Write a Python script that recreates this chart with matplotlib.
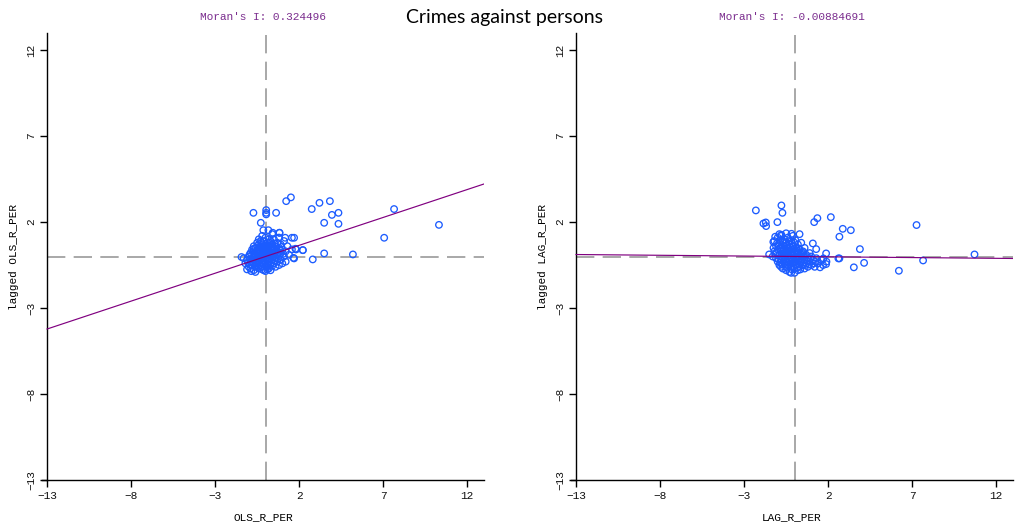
import numpy as np
import matplotlib.pyplot as plt

# residuals vs spatially lagged residuals
ols_x = [1.51, 1.23, -0.72, 0.04, 0.04, 0.04, 0.63, -0.28, 2.75, 3.21, 3.83, 3.95, 4.34,
         3.49, 4.34, 7.65, 10.32, 7.06, 5.20, 3.49, 2.81, 2.22, 1.70, 1.78, 1.57, 1.17,
         0.83, -1.43, 1.70, 1.57, 1.82, 2.22, 1.66, 0.83, 0.43, -0.13, 0.17,
         -1.2, -1.1, -1.0, -1.0, -0.9, -0.9, -0.9, -0.8, -0.8, -0.8, -0.7, -0.7, -0.7, -0.7,
         -0.6, -0.6, -0.6, -0.6, -0.5, -0.5, -0.5, -0.5, -0.4, -0.4, -0.4, -0.4, -0.4,
         -0.3, -0.3, -0.3, -0.3, -0.3, -0.2, -0.2, -0.2, -0.2, -0.2, -0.1, -0.1, -0.1,
         -0.1, -0.1, 0.0, 0.0, 0.0, 0.0, 0.0, 0.1, 0.1, 0.1, 0.1, 0.1, 0.2, 0.2, 0.2,
         0.2, 0.2, 0.3, 0.3, 0.3, 0.3, 0.4, 0.4, 0.4, 0.4, 0.5, 0.5, 0.5, 0.5, 0.6, 0.6,
         0.6, 0.6, 0.7, 0.7, 0.7, 0.8, 0.8, 0.8, 0.9, 0.9, 0.9, 1.0, 1.0, 1.1, 1.1, 1.2,
         1.2, 1.3, 1.4, -1.3, -0.95, -0.65, -0.45, -0.25, -0.05, 0.15, 0.35, 0.55, 0.25,
         -0.15, -0.55, 0.05, 0.45, 0.65, -0.35, 0.85, -0.75, 0.15, -0.05, -0.85, -0.6,
         0.0, 0.3, -1.1]
ols_lag = [3.44, 3.22, 2.54, 2.70, 2.54, 2.45, 2.54, 1.96, 2.76, 3.12, 3.22, 2.42, 2.54,
           1.96, 1.90, 2.76, 1.84, 1.09, 0.12, 0.18, -0.17, 0.37, -0.11, 0.45, 1.09, 1.09,
           1.38, -0.03, 1.09, 0.41, 0.41, 0.37, -0.08, 1.38, 1.38, 1.53, 1.53,
           -0.4, -0.2, -0.6, 0.0, -0.3, 0.2, -0.7, -0.5, 0.1, 0.4, -0.2, -0.8, 0.3, 0.6,
           -0.4, 0.0, 0.5, -0.6, 0.2, -0.1, 0.8, -0.5, 0.4, -0.3, 0.0, 1.0, -0.7,
           0.6, 0.1, -0.2, -0.5, 0.9, 0.3, -0.1, 0.7, -0.6, 1.2, 0.5, 0.0, -0.3,
           0.9, -0.8, 0.2, -0.4, 0.6, 1.1, -0.1, 0.4, -0.2, 0.8, -0.6, 0.1, 0.6, -0.3, 0.3,
           1.0, -0.7, 0.0, 0.5, -0.5, 0.9, 0.2, -0.2, 0.7, 1.3, 0.4, -0.4, 0.0, 1.0, 0.6, -0.1,
           0.3, -0.6, 0.8, 0.1, -0.3, 0.5, -0.5, 1.1, 0.2, -0.2, 0.7, 0.4, -0.4, 0.0, 0.9, 0.3,
           -0.3, 0.6, 0.1, -0.1, -0.45, 0.15, -0.25, 0.45, 0.25, 0.55, 0.25, 0.75, -0.15,
           -0.45, -0.35, -0.55, 0.45, 0.35, 0.35, 0.05, -0.05, 0.15, 0.65, -0.85, -0.9,
           -0.85, -0.8, -0.75]
# extra points in the dense core of the left cloud
ols_core_x = [-0.85, -0.75, -0.7, -0.65, -0.55, -0.5, -0.45, -0.45, -0.35, -0.35, -0.25,
              -0.25, -0.15, -0.15, -0.05, -0.05, 0.05, 0.05, 0.15, 0.15, 0.25, 0.25, 0.35,
              0.35, 0.45, 0.45, 0.55, 0.55, 0.65, 0.75, 0.75, 0.85, 0.95, 1.05, -1.05,
              -0.95, -0.6, -0.2, 0.1, 0.4]
ols_core_lag = [-0.15, -0.35, 0.45, -0.55, 0.05, 0.35, -0.6, 0.65, -0.05, 0.15, -0.35,
                0.8, 0.05, 0.35, -0.2, 0.45, 0.05, 0.75, -0.45, 0.35, 0.1, 0.8, -0.35,
                0.55, 0.1, -0.05, 0.25, -0.25, 0.55, 0.25, -0.1, 0.4, 0.55, 0.15, -0.35,
                0.1, -0.15, -0.75, -0.75, -0.55]

lag_x = [-2.30, -0.78, -0.72, -1.85, -1.71, -1.69, -1.02, 1.17, 1.36, 2.16, 2.87, 3.35, 2.67,
         7.26, 3.89, 2.67, 4.14, 3.53, 6.21, 7.65, 10.71, 1.88, 1.72, 1.88, 1.52, 1.09, 1.29,
         -1.51, -0.18, -0.78, -1.15, -1.26, 2.61,
         -1.2, -1.2, -1.1, -1.1, -1.0, -1.0, -1.0, -0.9, -0.9, -0.9, -0.8, -0.8, -0.8, -0.8,
         -0.7, -0.7, -0.7, -0.7, -0.6, -0.6, -0.6, -0.6, -0.5, -0.5, -0.5, -0.5, -0.4, -0.4,
         -0.4, -0.4, -0.3, -0.3, -0.3, -0.3, -0.2, -0.2, -0.2, -0.2, -0.1, -0.1, -0.1, -0.1,
         0.0, 0.0, 0.0, 0.0, 0.1, 0.1, 0.1, 0.2, 0.2, 0.2, 0.2, 0.3, 0.3, 0.3, 0.4, 0.4, 0.4,
         0.5, 0.5, 0.5, 0.6, 0.6, 0.6, 0.7, 0.7, 0.8, 0.8, 0.9, 0.9, 1.0, 1.0, 1.1, 1.2, 1.3,
         1.4, 1.6, 1.7, 1.9, -1.15, -0.95, -0.85, -0.65, -0.55, -0.45, -0.35, -0.25, -0.15,
         -0.05, 0.05, 0.15, 0.25, 0.35, 0.45, -0.75, -0.65, -0.45, -0.25, -0.05, 0.15, -0.2,
         0.0, -0.9, -0.5, 0.3, -1.3, -1.25]
lag_lag = [2.68, 2.97, 2.54, 1.92, 1.98, 1.77, 2.00, 2.00, 2.23, 2.29, 1.61, 1.53, 1.15,
           1.83, 0.43, -0.11, -0.37, -0.63, -0.83, -0.23, 0.12, 0.18, -0.11, -0.44, -0.63, 0.76,
           0.43, 0.12, 1.32, 1.26, 1.15, 0.85, -0.11,
           0.9, 0.3, 0.6, -0.1, 1.1, 0.4, -0.3, 0.8, 0.1, -0.5, 1.2, 0.5, -0.2, -0.6,
           0.9, 0.3, -0.1, -0.7, 1.0, 0.6, 0.0, -0.4, 0.8, 0.2, -0.3, -0.8, 1.1, 0.5,
           0.0, -0.5, 0.7, 0.3, -0.2, -0.9, 0.9, 0.4, -0.1, -0.6, 1.2, 0.6, 0.1, -0.4,
           0.8, 0.2, -0.3, -0.7, 0.5, 0.0, -0.5, 0.7, 0.2, -0.2, -0.8, 0.4, -0.1, -0.6, 0.1, -0.3,
           0.8, 0.3, -0.5, 0.0, -0.2, -0.7, 0.5, 0.1, -0.4, -0.1, -0.6, 0.2, -0.3, -0.5, 0.0, -0.2,
           -0.6, -0.1, -0.4, -0.2, -0.5, -0.3, 0.15, 0.65, -0.35, 0.35, -0.55, 0.65, -0.35, 0.15,
           -0.25, 0.45, -0.15, 0.25, -0.45, 0.15, -0.15, 0.15, -0.25, 0.35, -0.45, -0.55, -0.65,
           -0.95, -0.95, 1.3, 1.35, 1.3, 0.0, 0.5]
lag_core_x = [-1.05, -0.95, -0.85, -0.75, -0.75, -0.65, -0.55, -0.55, -0.45, -0.45, -0.35,
              -0.35, -0.25, -0.25, -0.15, -0.15, -0.05, -0.05, 0.05, 0.05, 0.15, 0.25, 0.25,
              0.35, 0.45, 0.55, 0.65, 0.75, 0.85, 0.95, 1.15, -0.85, -0.65, -0.35, 0.05,
              -1.05, 0.35, 0.65, 1.25, -0.15]
lag_core_lag = [0.25, -0.15, 0.45, -0.45, 0.65, 0.05, 0.45, -0.15, 0.15, -0.65, 0.45,
                0.05, 0.55, -0.05, 0.25, -0.75, 0.05, -0.35, 0.35, -0.45, -0.05, 0.45, 0.05,
                -0.35, 0.25, -0.35, 0.05, -0.25, -0.45, -0.1, -0.4, 0.95, 0.8, 0.9, 0.95,
                0.75, -0.75, -0.5, -0.3, 0.75]

panels = [
    ("OLS_R_PER", "lagged OLS_R_PER", "Moran's I: 0.324496", 0.324496,
     ols_x + ols_core_x, ols_lag + ols_core_lag),
    ("LAG_R_PER", "lagged LAG_R_PER", "Moran's I: -0.00884691", -0.00884691,
     lag_x + lag_core_x, lag_lag + lag_core_lag),
]
ticks = [-13, -8, -3, 2, 7, 12]

mono = "Liberation Mono"
fig = plt.figure(figsize=(10.24, 5.29), dpi=100)
lefts = [42 / 1024, 571 / 1024]

for left, (xl, yl, moran, slope, xs, ys) in zip(lefts, panels):
    ax = fig.add_axes([left, 1 - 480 / 529, 442 / 1024, 447 / 529])
    ax.set_xlim(-13.3, 13)
    ax.set_ylim(-13, 13)
    for s in ["top", "right"]:
        ax.spines[s].set_visible(False)
    ax.spines["left"].set_position(("data", -13))
    ax.spines["left"].set_linewidth(1.0)
    ax.spines["bottom"].set_linewidth(1.0)

    # quadrant dashes
    ax.axvline(0, color="#999999", lw=1.2, dashes=(11, 5), zorder=1)
    ax.plot([-13, 13], [0, 0], color="#999999", lw=1.2, dashes=(11, 5), zorder=1)

    ax.scatter(xs, ys, s=22, facecolors="none", edgecolors="#1c5cff", linewidths=0.95, zorder=3)

    lx = np.array([-13, 13])
    ax.plot(lx, slope * lx, color="#800080", lw=0.85, zorder=4)

    ax.set_xticks(ticks)
    ax.set_yticks(ticks)
    ax.set_xticklabels([str(t).replace("-", "\u2212") for t in ticks], family=mono, fontsize=8)
    ax.set_yticklabels([str(t).replace("-", "\u2212") for t in ticks], family=mono, fontsize=8,
                       rotation=90, va="center")
    ax.tick_params(length=5, width=1.0, color="black", pad=3, labelcolor="#111111")
    ax.set_xlabel(xl, family=mono, fontsize=8, labelpad=8)
    ax.set_ylabel(yl, family=mono, fontsize=8, labelpad=5)
    ax.text(0.5, 1.035, moran, transform=ax.transAxes, ha="center", va="center",
            family=mono, fontsize=8, color="#7b2d8e")

fig.text(505 / 1024, 1 - 18 / 529, "Crimes against persons", ha="center", va="center",
         family="Lato", fontsize=14, color="black")

fig.savefig("out.png", dpi=100)
